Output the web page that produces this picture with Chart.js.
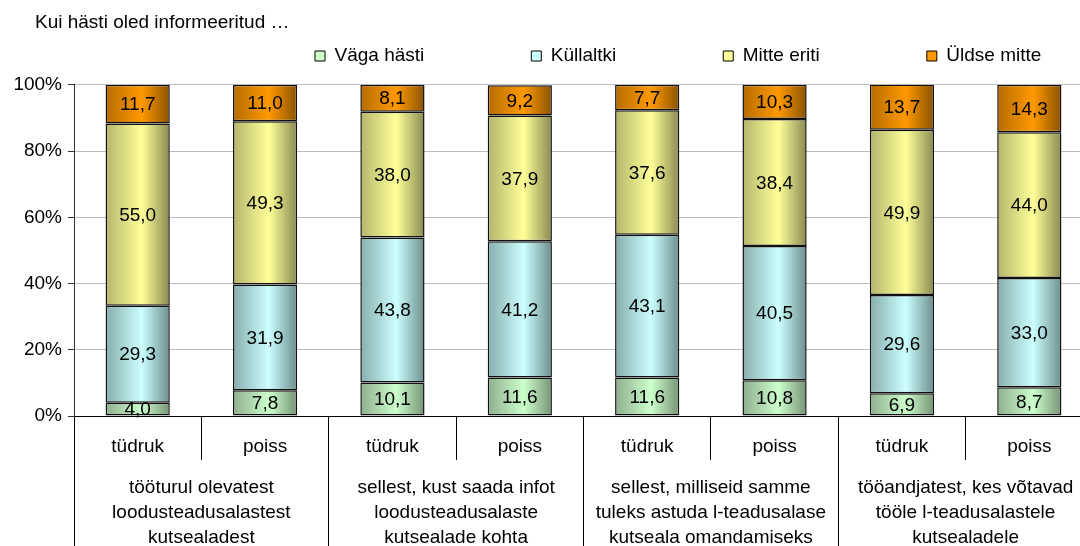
<!DOCTYPE html>
<html>
<head>
<meta charset="utf-8">
<script src="https://cdn.jsdelivr.net/npm/chart.js@4.4.1/dist/chart.umd.min.js"></script>
<style>
  html, body { margin: 0; padding: 0; overflow: hidden; background: #fff; width: 1080px; height: 546px; }
  #wrap { position: relative; width: 1100px; height: 546px; }
</style>
</head>
<body>
<div id="wrap"><canvas id="c"></canvas></div>
<script>
const titleText = "Kui hästi oled informeeritud …";
const categories = ["tüdruk", "poiss", "tüdruk", "poiss", "tüdruk", "poiss", "tüdruk", "poiss"];
const groupLabels = [
  ["tööturul olevatest", "loodusteadusalastest", "kutsealadest"],
  ["sellest, kust saada infot", "loodusteadusalaste", "kutsealade kohta"],
  ["sellest, milliseid samme", "tuleks astuda l-teadusalase", "kutseala omandamiseks"],
  ["tööandjatest, kes võtavad", "tööle l-teadusalastele", "kutsealadele"]
];
const seriesNames = ["Väga hästi", "Küllaltki", "Mitte eriti", "Üldse mitte"];
const vagaHasti  = [4.0, 7.8, 10.1, 11.6, 11.6, 10.8, 6.9, 8.7];
const kullaltki  = [29.3, 31.9, 43.8, 41.2, 43.1, 40.5, 29.6, 33.0];
const mitteEriti = [55.0, 49.3, 38.0, 37.9, 37.6, 38.4, 49.9, 44.0];
const uldseMitte = [11.7, 11.0, 8.1, 9.2, 7.7, 10.3, 13.7, 14.3];
const yTicks = [0, 20, 40, 60, 80, 100];

const FONT = "'Liberation Sans', Arial, sans-serif";
const BAR_FRACTION = 0.504;

const palettes = [
  ['#8fae8f', '#ccffcc', '#779377'],
  ['#88adad', '#ccffff', '#6d8d8d'],
  ['#b5b56c', '#ffff99', '#8a8a52'],
  ['#b56c00', '#ff9900', '#8a5200']
];

function gradFor(p) {
  return function(ctx) {
    const chart = ctx.chart;
    const xs = chart.scales && chart.scales.x;
    if (!chart.chartArea || !xs || ctx.dataIndex === undefined || ctx.type !== 'data') return p[1];
    const cx = xs.getPixelForValue(ctx.dataIndex);
    const half = xs.width / categories.length * BAR_FRACTION / 2;
    const g = chart.ctx.createLinearGradient(cx - half, 0, cx + half, 0);
    g.addColorStop(0, p[0]);
    g.addColorStop(0.56, p[1]);
    g.addColorStop(1, p[2]);
    return g;
  };
}

const seriesData = [vagaHasti, kullaltki, mitteEriti, uldseMitte];
const datasets = seriesNames.map((name, i) => ({
  label: name,
  data: seriesData[i],
  backgroundColor: gradFor(palettes[i]),
  borderColor: '#111',
  borderWidth: 1.5,
  borderSkipped: false,
  barPercentage: BAR_FRACTION,
  categoryPercentage: 1.0
}));

const fmt = v => v.toFixed(1).replace('.', ',');

const valueLabels = {
  id: 'valueLabels',
  afterDatasetsDraw(chart) {
    const ctx = chart.ctx;
    ctx.save();
    ctx.font = '19px ' + FONT;
    ctx.fillStyle = '#000';
    ctx.textAlign = 'center';
    ctx.textBaseline = 'middle';
    chart.data.datasets.forEach((ds, di) => {
      const meta = chart.getDatasetMeta(di);
      meta.data.forEach((el, i) => {
        const y = (el.y + el.base) / 2;
        ctx.fillText(fmt(ds.data[i]), el.x, y + 1);
      });
    });
    ctx.restore();
  }
};

const placeBlocks = {
  id: 'placeBlocks',
  afterLayout(chart) {
    const t = chart.titleBlock;
    if (t) { t.left += 35; t.right += 35; }
    const lg = chart.legend;
    if (lg) {
      const pad = lg.options.labels.padding;
      const dx = 315 - (lg.left + pad);
      lg.left += dx; lg.right += dx;
      const mid = 56;
      lg.top = mid - 19 / 2 - pad;
    }
  }
};

new Chart(document.getElementById('c'), {
  type: 'bar',
  data: { labels: categories, datasets },
  plugins: [valueLabels, placeBlocks],
  options: {
    responsive: true,
    maintainAspectRatio: false,
    animation: false,
    layout: { padding: { left: 0, right: 7, top: 0, bottom: 0 } },
    plugins: {
      title: {
        display: true,
        text: titleText,
        align: 'start',
        color: '#000',
        font: { family: FONT, size: 19, weight: 'normal', lineHeight: 1.2 },
        padding: { top: 11, bottom: 11 }
      },
      legend: {
        display: true,
        position: 'top',
        align: 'start',
        maxHeight: 40,
        labels: {
          color: '#000',
          font: { family: FONT, size: 19 },
          boxWidth: 10,
          boxHeight: 10,
          padding: 107,
          generateLabels(chart) {
            return chart.data.datasets.map((ds, i) => ({
              text: ds.label,
              fillStyle: palettes[i][1],
              strokeStyle: '#000',
              lineWidth: 1,
              fontColor: '#000',
              hidden: false,
              datasetIndex: i
            }));
          }
        }
      },
      tooltip: { enabled: false }
    },
    scales: {
      x: {
        type: 'category',
        stacked: true,
        position: 'bottom',
        weight: 0,
        offset: true,
        border: { display: true, color: '#000', width: 1 },
        grid: {
          offset: true,
          drawOnChartArea: false,
          drawTicks: true,
          tickLength: 44,
          color: '#000',
          tickColor: '#000'
        },
        ticks: {
          color: '#000',
          font: { family: FONT, size: 19, lineHeight: 1.2 },
          padding: -25,
          autoSkip: false,
          maxRotation: 0,
          minRotation: 0
        },
        afterFit(s) { s.height = 44; }
      },
      x2: {
        type: 'category',
        labels: groupLabels,
        position: 'bottom',
        weight: 1,
        offset: true,
        border: { display: false },
        grid: {
          offset: true,
          drawOnChartArea: false,
          drawTicks: true,
          tickLength: 86,
          color: '#000',
          tickColor: '#000'
        },
        ticks: {
          color: '#000',
          font: { family: FONT, size: 19, lineHeight: 1.32 },
          padding: -71,
          autoSkip: false,
          maxRotation: 0,
          minRotation: 0
        },
        afterFit(s) { s.height = 86; }
      },
      y: {
        stacked: true,
        min: 0,
        max: 100,
        border: { display: true, color: '#333', width: 1 },
        grid: {
          color: '#bdbdbd',
          tickColor: '#333',
          tickLength: 6,
          drawTicks: true
        },
        afterBuildTicks(s) { s.ticks = yTicks.map(v => ({ value: v })); },
        ticks: {
          color: '#000',
          font: { family: FONT, size: 19 },
          padding: 6,
          callback: v => v + '%'
        },
        afterFit(s) { s.width = 74; }
      }
    }
  }
});
</script>
</body>
</html>
